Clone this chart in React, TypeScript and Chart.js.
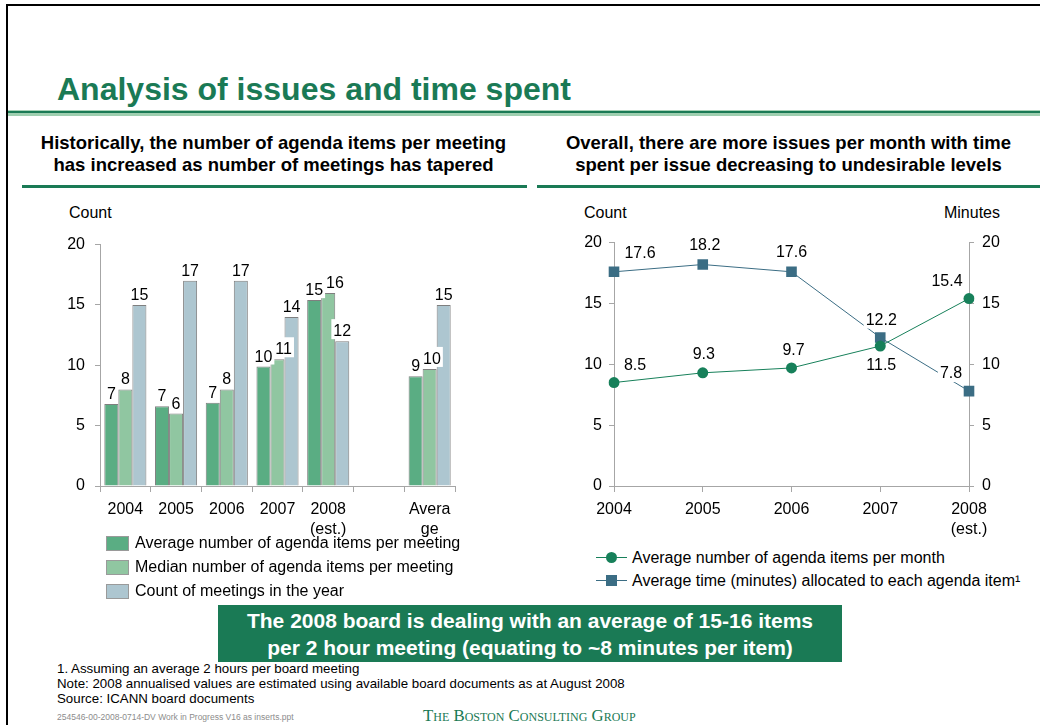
import React, { useEffect, useRef } from 'react';
import { Chart, registerables } from 'chart.js';

Chart.register(...registerables);

// ---------- data ----------
const barCategories: (string | string[])[] = ['2004', '2005', '2006', '2007', ['2008', '(est.)'], '', ['Avera', 'ge']];
const avgItemsPerMeeting = [6.8, 6.6, 6.9, 9.9, 15.4, null, 9.1];
const medianItemsPerMeeting = [8, 6, 8, 10.5, 16, null, 9.7];
const meetingsPerYear = [15, 17, 17, 14, 12, null, 15];
const countTicks = [0, 5, 10, 15, 20];

const lineYears: (string | string[])[] = ['2004', '2005', '2006', '2007', ['2008', '(est.)']];
const itemsPerMonth = [8.5, 9.3, 9.7, 11.5, 15.4];
const minutesPerItem = [17.6, 18.2, 17.6, 12.2, 7.8];

// ---------- styling ----------
const GREEN = '#1a7a55';
const C_AVG = '#5aad83';
const C_MED = '#90c6a1';
const C_CNT = '#adc6d0';
const C_LINE_G = '#17805a';
const C_LINE_B = '#3b6d84';
const FONT = '"Liberation Sans", Arial, sans-serif';

// label offsets (dx, dy) relative to each point, styling only
const itemsLabelOffsets = [[21, -18], [1, -19], [2, -18], [1, 19], [-22, -18]];
const minutesLabelOffsets = [[26, -19], [2, -20], [0, -20], [1, -18], [-18, -18]];

const barLabelPlugin = {
  id: 'barLabels',
  afterDatasetsDraw(chart: any) {
    const ctx = chart.ctx;
    ctx.save();
    ctx.font = `16px ${FONT}`;
    ctx.textAlign = 'center';
    ctx.textBaseline = 'alphabetic';
    const nCat = chart.data.labels.length;
    const nDs = chart.data.datasets.length;
    const labels: any[] = [];
    for (let i = 0; i < nCat; i++) {
      let prev: any = null;
      for (let d = 0; d < nDs; d++) {
        const v = chart.data.datasets[d].data[i];
        if (v === null || v === undefined) continue;
        const el = chart.getDatasetMeta(d).data[i];
        const txt = String(Math.round(v));
        const w = ctx.measureText(txt).width;
        let x = el.x;
        const y = el.y - 5;
        if (prev && Math.abs(prev.y - y) < 20 && x - w / 2 < prev.x + prev.w / 2 + 3) {
          x = prev.x + prev.w / 2 + 3 + w / 2;
        }
        const lab = { x, y, w, txt };
        labels.push(lab);
        prev = lab;
      }
    }
    labels.forEach((l) => {
      ctx.fillStyle = '#ffffff';
      ctx.fillRect(l.x - l.w / 2 - 2, l.y - 17, l.w + 4, 20);
      ctx.fillStyle = '#000000';
      ctx.fillText(l.txt, l.x, l.y);
    });
    ctx.restore();
  },
};

const lineLabelPlugin = {
  id: 'lineLabels',
  afterDatasetsDraw(chart: any) {
    const ctx = chart.ctx;
    ctx.save();
    ctx.font = `16px ${FONT}`;
    ctx.textAlign = 'center';
    ctx.textBaseline = 'middle';
    const offsets = [itemsLabelOffsets, minutesLabelOffsets];
    chart.data.datasets.forEach((ds: any, di: number) => {
      const meta = chart.getDatasetMeta(di);
      meta.data.forEach((el: any, i: number) => {
        const v = ds.data[i];
        const txt = v.toFixed(1);
        const [dx, dy] = offsets[di][i];
        const x = el.x + dx;
        const y = el.y + dy;
        const w = ctx.measureText(txt).width;
        ctx.fillStyle = '#ffffff';
        ctx.fillRect(x - w / 2 - 2, y - 9, w + 4, 18);
        ctx.fillStyle = '#000000';
        ctx.fillText(txt, x, y + 1);
      });
    });
    ctx.restore();
  },
};

function BarChart() {
  const ref = useRef<HTMLCanvasElement>(null);
  useEffect(() => {
    const chart = new Chart(ref.current!, {
      type: 'bar',
      data: {
        labels: barCategories as any,
        datasets: [
          { label: 'Average number of agenda items per meeting', data: avgItemsPerMeeting, backgroundColor: C_AVG, borderColor: '#7f7f7f', borderWidth: 1 },
          { label: 'Median number of agenda items per meeting', data: medianItemsPerMeeting, backgroundColor: C_MED, borderColor: '#7f7f7f', borderWidth: 1 },
          { label: 'Count of meetings in the year', data: meetingsPerYear, backgroundColor: C_CNT, borderColor: '#7f7f7f', borderWidth: 1 },
        ],
      },
      options: {
        animation: false,
        responsive: false,
        maintainAspectRatio: false,
        events: [],
        layout: { padding: { left: 0, right: 15, top: 14, bottom: 0 } },
        datasets: { bar: { categoryPercentage: 0.83, barPercentage: 1.0 } },
        plugins: { legend: { display: false }, tooltip: { enabled: false } },
        scales: {
          x: {
            offset: true,
            grid: { display: true, drawOnChartArea: false, drawTicks: true, tickLength: 6, color: '#a6a6a6', offset: true },
            border: { display: true, color: '#a6a6a6', width: 1 },
            ticks: { color: '#000', font: { family: FONT, size: 16, lineHeight: 1.25 }, padding: 8, maxRotation: 0, autoSkip: false },
            afterFit: (s: any) => { s.height = 59; },
          },
          y: {
            min: 0, max: 20,
            afterBuildTicks: (s: any) => { s.ticks = countTicks.map((v) => ({ value: v })); },
            grid: { display: true, drawOnChartArea: false, drawTicks: true, tickLength: 5, color: '#a6a6a6' },
            border: { display: true, color: '#a6a6a6', width: 1 },
            ticks: { color: '#000', font: { family: FONT, size: 16 }, padding: 10 },
            afterFit: (s: any) => { s.width = 60; },
          },
        },
      },
      plugins: [barLabelPlugin],
    });
    return () => chart.destroy();
  }, []);
  return <canvas ref={ref} width={430} height={320} style={{ position: 'absolute', left: 40, top: 225, width: 430, height: 320 }} />;
}

function LineChart() {
  const ref = useRef<HTMLCanvasElement>(null);
  useEffect(() => {
    const chart = new Chart(ref.current!, {
      type: 'line',
      data: {
        labels: lineYears as any,
        datasets: [
          { label: 'Average number of agenda items per month', data: itemsPerMonth, borderColor: C_LINE_G, backgroundColor: C_LINE_G, borderWidth: 1, pointStyle: 'circle', pointRadius: 5.5, pointBorderWidth: 0, yAxisID: 'y', tension: 0 },
          { label: 'Average time (minutes) allocated to each agenda item¹', data: minutesPerItem, borderColor: C_LINE_B, backgroundColor: C_LINE_B, borderWidth: 1, pointStyle: 'rect', pointRadius: 7.5, pointBorderWidth: 0, yAxisID: 'y2', tension: 0 },
        ],
      },
      options: {
        animation: false,
        responsive: false,
        maintainAspectRatio: false,
        events: [],
        layout: { padding: { left: 0, right: 0, top: 15, bottom: 0 } },
        plugins: { legend: { display: false }, tooltip: { enabled: false } },
        scales: {
          x: {
            offset: false,
            grid: { display: true, drawOnChartArea: false, drawTicks: true, tickLength: 6, color: '#a6a6a6' },
            border: { display: true, color: '#a6a6a6', width: 1 },
            ticks: { color: '#000', font: { family: FONT, size: 16, lineHeight: 1.25 }, padding: 8, maxRotation: 0, autoSkip: false },
            afterFit: (s: any) => { s.height = 59; },
          },
          y: {
            position: 'left',
            min: 0, max: 20,
            afterBuildTicks: (s: any) => { s.ticks = countTicks.map((v) => ({ value: v })); },
            grid: { display: true, drawOnChartArea: false, drawTicks: true, tickLength: 5, color: '#a6a6a6' },
            border: { display: true, color: '#a6a6a6', width: 1 },
            ticks: { color: '#000', font: { family: FONT, size: 16 }, padding: 7 },
            afterFit: (s: any) => { s.width = 74; },
          },
          y2: {
            position: 'right',
            min: 0, max: 20,
            afterBuildTicks: (s: any) => { s.ticks = countTicks.map((v) => ({ value: v })); },
            grid: { display: true, drawOnChartArea: false, drawTicks: true, tickLength: 5, color: '#a6a6a6' },
            border: { display: true, color: '#a6a6a6', width: 1 },
            ticks: { color: '#000', font: { family: FONT, size: 16 }, padding: 8 },
            afterFit: (s: any) => { s.width = 51; },
          },
        },
      },
      plugins: [lineLabelPlugin],
    });
    return () => chart.destroy();
  }, []);
  return <canvas ref={ref} width={480} height={320} style={{ position: 'absolute', left: 540, top: 225, width: 480, height: 320 }} />;
}

const abs = (s: React.CSSProperties): React.CSSProperties => ({ position: 'absolute', ...s });

function BarLegendRow({ color, text, y }: { color: string; text: string; y: number }) {
  return (
    <>
      <div style={abs({ left: 106, top: y - 7, width: 21, height: 13, background: color, border: '1px solid #9a9a9a' })} />
      <div style={abs({ left: 135, top: y - 10, fontSize: 16, lineHeight: '20px', whiteSpace: 'nowrap' })}>{text}</div>
    </>
  );
}

export default function App() {
  useEffect(() => {
    document.body.style.margin = '0';
  }, []);
  return (
    <div style={{ position: 'absolute', left: 0, top: 0, width: 1040, height: 725, background: '#fff', fontFamily: FONT, color: '#000', overflow: 'hidden' }}>
      {/* frame */}
      <div style={abs({ left: 6, top: 4, width: 2, height: 721, background: '#000' })} />
      <div style={abs({ left: 6, top: 4, width: 1034, height: 2, background: '#000' })} />

      {/* title */}
      <div style={abs({ left: 57, top: 71, fontSize: 32, lineHeight: '36px', fontWeight: 700, color: GREEN, whiteSpace: 'nowrap' })}>
        Analysis of issues and time spent
      </div>
      <div style={abs({ left: 8, top: 110, width: 1032, height: 1, background: '#a9d3b8' })} />
      <div style={abs({ left: 8, top: 111, width: 1032, height: 2, background: GREEN })} />
      <div style={abs({ left: 8, top: 113, width: 1032, height: 3, background: '#9fcfb0' })} />

      {/* subtitles */}
      <div style={abs({ left: 22, top: 132, width: 503, textAlign: 'center', fontSize: 18.5, lineHeight: '22px', fontWeight: 700, whiteSpace: 'nowrap' })}>
        Historically, the number of agenda items per meeting<br />has increased as number of meetings has tapered
      </div>
      <div style={abs({ left: 537, top: 132, width: 503, textAlign: 'center', fontSize: 18.5, lineHeight: '22px', fontWeight: 700, whiteSpace: 'nowrap' })}>
        Overall, there are more issues per month with time<br />spent per issue decreasing to undesirable levels
      </div>
      <div style={abs({ left: 22, top: 185, width: 505, height: 3, background: GREEN })} />
      <div style={abs({ left: 537, top: 185, width: 503, height: 3, background: GREEN })} />

      {/* axis titles */}
      <div style={abs({ left: 69, top: 203, fontSize: 16, lineHeight: '20px' })}>Count</div>
      <div style={abs({ left: 584, top: 203, fontSize: 16, lineHeight: '20px' })}>Count</div>
      <div style={abs({ left: 900, width: 100, top: 203, fontSize: 16, lineHeight: '20px', textAlign: 'right' })}>Minutes</div>

      <BarChart />
      <LineChart />

      {/* bar legend */}
      <BarLegendRow color={C_AVG} text="Average number of agenda items per meeting" y={543} />
      <BarLegendRow color={C_MED} text="Median number of agenda items per meeting" y={567} />
      <BarLegendRow color={C_CNT} text="Count of meetings in the year" y={591} />

      {/* line legend */}
      <div style={abs({ left: 596, top: 557, width: 31, height: 1, background: C_LINE_G })} />
      <div style={abs({ left: 606, top: 552, width: 11, height: 11, borderRadius: '50%', background: C_LINE_G })} />
      <div style={abs({ left: 632, top: 548, fontSize: 16, lineHeight: '20px', whiteSpace: 'nowrap' })}>Average number of agenda items per month</div>
      <div style={abs({ left: 596, top: 580, width: 31, height: 1, background: C_LINE_B })} />
      <div style={abs({ left: 606, top: 575, width: 11, height: 11, background: C_LINE_B })} />
      <div style={abs({ left: 632, top: 571, fontSize: 16, lineHeight: '20px', whiteSpace: 'nowrap' })}>Average time (minutes) allocated to each agenda item¹</div>

      {/* callout */}
      <div style={abs({ left: 218, top: 605, width: 624, height: 57, background: GREEN, color: '#fff', fontWeight: 700, fontSize: 21, lineHeight: '27px', textAlign: 'center', paddingTop: 2, boxSizing: 'border-box', whiteSpace: 'nowrap' })}>
        The 2008 board is dealing with an average of 15-16 items<br />per 2 hour meeting (equating to ~8 minutes per item)
      </div>

      {/* footnotes */}
      <div style={abs({ left: 57, top: 661, fontSize: 13.3, lineHeight: '15px', whiteSpace: 'nowrap' })}>
        1. Assuming an average 2 hours per board meeting<br />
        Note: 2008 annualised values are estimated using available board documents as at August 2008<br />
        Source: ICANN board documents
      </div>
      <div style={abs({ left: 57, top: 711, fontSize: 8.5, lineHeight: '12px', color: '#8c8c8c', whiteSpace: 'nowrap' })}>
        254546-00-2008-0714-DV Work in Progress V16 as inserts.ppt
      </div>
      <div style={abs({ left: 423, top: 706, fontSize: 16.8, lineHeight: '20px', color: GREEN, fontFamily: '"Liberation Serif", "Times New Roman", serif', fontVariant: 'small-caps', whiteSpace: 'nowrap' })}>
        The Boston Consulting Group
      </div>
    </div>
  );
}
